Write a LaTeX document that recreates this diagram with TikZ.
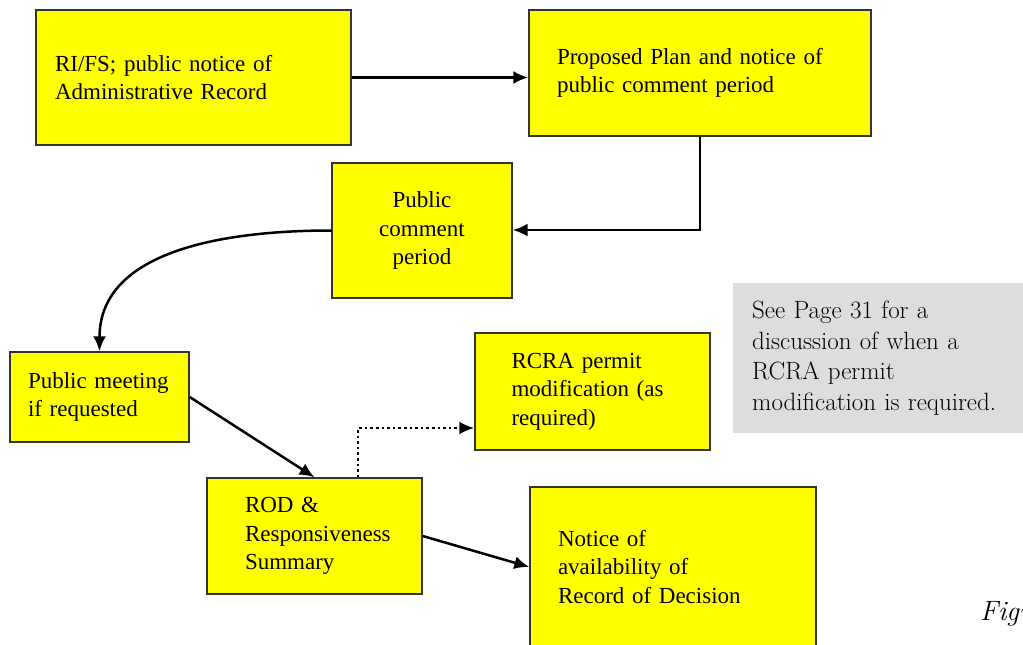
\documentclass[tikz,border=0pt]{standalone}
\usepackage{fontspec}
\newfontfamily\boxfont{Liberation Serif}
\usetikzlibrary{shapes, arrows.meta}

\definecolor{stageyellow}{RGB}{255,255,0}
\definecolor{notegray}{RGB}{221,221,221}

\tikzset{
  stage/.style={draw=black!80, line width=1.4pt, fill=stageyellow, align=left,
    font=\boxfont\fontsize{23}{28.5}\selectfont},
  flow/.style={->, line width=2.5pt, >={Latex[length=15pt, width=13pt]}}
}

\begin{document}
\begin{tikzpicture}[x=1pt, y=-1pt]
\clip (0,0) rectangle (1023,645);
\fill[white] (0,0) rectangle (1023,645);
\node[stage, text width=277pt, inner xsep=19pt, minimum height=135pt] (rifs) at (193.5,77.5) {RI/FS; public notice of\\Administrative Record};
\node[stage, text width=286pt, inner xsep=28pt, minimum height=126pt] (plan) at (700,73) {Proposed Plan and notice of\\public comment period};
\node[stage, align=center, text width=160pt, inner xsep=10pt, minimum height=135pt] (comment) at (422,230.5) {Public\\comment\\period};
\node[stage, text width=143pt, inner xsep=18pt, minimum height=90pt] (meeting) at (99.5,397) {Public meeting\\if requested};
\node[stage, text width=139pt, inner xsep=38pt, minimum height=116pt] (rod) at (314.5,536) {ROD \&\\Responsiveness\\Summary};
\node[stage, text width=162pt, inner xsep=36.5pt, minimum height=117pt] (rcra) at (592.5,391.5) {RCRA permit\\modification (as\\required)};
\node[stage, text width=230pt, inner xsep=28pt, minimum height=160pt] (notice) at (673,567) {Notice of\\availability of\\Record of Decision};
\node[fill=notegray, anchor=north west, align=left, text width=290pt, inner xsep=19pt, minimum height=150pt,
  font=\fontsize{25}{30.5}\selectfont] (note) at (733,283) {See Page 31 for a\\discussion of when a\\RCRA permit\\modification is required.};
\node[anchor=base west, inner sep=0pt, font=\itshape\fontsize{28}{32}\selectfont] (fig) at (980,620) {Figu};
% Arrows
\coordinate (turn) at (700,230);
\coordinate (up) at (358,428);
\draw[flow] (rifs.east)--(plan.west |- rifs.east);
\draw[flow] (plan.south -| turn)--(turn)--(comment.east |- turn);
\draw[flow] (comment.west) to[out=180, in=90] (meeting.north);
\draw[flow] (meeting.east)--(rod.north);
\draw[flow] (rod.east)--(notice.west);
\draw[->, line width=2.6pt, >={Latex[length=15pt, width=13pt]}, dash pattern=on 2.6pt off 3pt] (rod.north -| up)--(up)--(rcra.west |- up);
\end{tikzpicture}
\end{document}
